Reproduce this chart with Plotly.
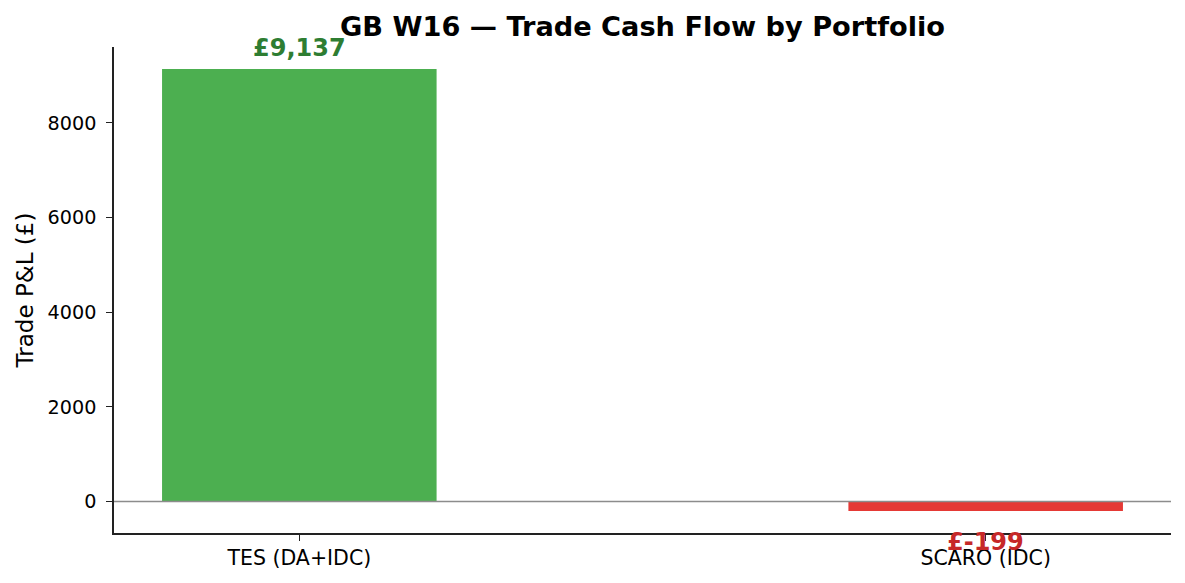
import plotly.graph_objects as go

# 포트폴리오별 트레이드 현금흐름 데이터
portfolios = ['TES (DA+IDC)', 'SCARO (IDC)']
trade_pnl = [9137, -199]
y_ticks = [0, 2000, 4000, 6000, 8000]

colors = {
    'pos_bar': '#4CAF50',
    'neg_bar': '#E53935',
    'pos_text': '#2E7D32',
    'neg_text': '#C62828',
    'spine': '#222222',
}
FONT = 'DejaVu Sans'

bar_colors = [colors['pos_bar'] if v >= 0 else colors['neg_bar'] for v in trade_pnl]

fig = go.Figure()
fig.add_trace(go.Bar(
    x=portfolios,
    y=trade_pnl,
    width=0.4,
    marker_color=bar_colors,
    marker_line_width=0,
    hoverinfo='x+y',
))

# 값 라벨 (양수는 위, 음수는 아래)
for name, val in zip(portfolios, trade_pnl):
    pos = val >= 0
    fig.add_annotation(
        x=name, y=val,
        text=f"<b>£{val:,}</b>",
        showarrow=False,
        yanchor='bottom' if pos else 'top',
        yshift=5 if pos else -15,
        font=dict(family=FONT, size=24,
                  color=colors['pos_text'] if pos else colors['neg_text']),
    )

# 0 기준선
fig.add_shape(type='line', xref='paper', x0=0, x1=1, yref='y', y0=0, y1=0,
              line=dict(color='#8c8c8c', width=1.3), layer='above')

lo = min(trade_pnl + [0])
hi = max(trade_pnl + [0])
pad = (hi - lo) * 0.05

# 페이지 body 여백(8px) 보정
fig.update_layout(
    title=dict(text='<b>GB W16 — Trade Cash Flow by Portfolio</b>',
               x=0.5, xref='paper', xanchor='center',
               y=1, yref='container', yanchor='top', pad=dict(t=9),
               font=dict(family=FONT, size=27.2, color='black')),
    width=1177,
    height=575,
    autosize=False,
    showlegend=False,
    plot_bgcolor='white',
    paper_bgcolor='white',
    margin=dict(l=106, r=14, t=39, b=50),
    font=dict(family=FONT, color='black'),
    xaxis=dict(
        range=[-0.27, 1.27],
        showline=True, linecolor=colors['spine'], linewidth=1.5,
        ticks='outside', ticklen=6, tickwidth=1.3, tickcolor=colors['spine'],
        showgrid=False, zeroline=False,
        tickfont=dict(family=FONT, size=20.5, color='black'),
    ),
    yaxis=dict(
        range=[lo - pad, hi + pad],
        tickvals=y_ticks,
        showline=True, linecolor=colors['spine'], linewidth=1.5,
        ticks='outside', ticklen=6, tickwidth=1.3, tickcolor=colors['spine'],
        ticklabelstandoff=6,
        showgrid=False, zeroline=False,
        tickfont=dict(family=FONT, size=19.2, color='black'),
        title=dict(text='Trade P&L (£)', standoff=8,
                   font=dict(family=FONT, size=23, color='black')),
    ),
)

fig.write_html("out.html")
